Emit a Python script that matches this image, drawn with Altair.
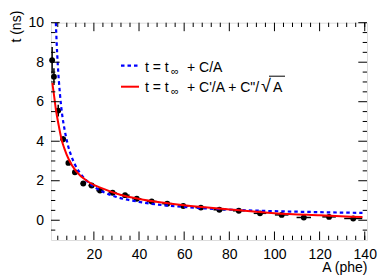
import altair as alt
import pandas as pd

FONT = "Liberation Sans"

# measured points (A in phe, t in ns)
A_pts = [1.5, 2.3, 4.2, 6.4, 8.7, 11.6, 15.3, 19.0, 22.7, 28.3, 33.8, 39.0, 45.6,
         52.5, 59.6, 67.4, 75.6, 84.2, 93.6, 103.2, 113.0, 124.2, 134.9]
t_pts = [8.1, 7.27, 5.55, 4.1, 2.9, 2.43, 1.86, 1.76, 1.5, 1.39, 1.27, 1.09, 0.95,
         0.84, 0.72, 0.64, 0.53, 0.48, 0.35, 0.27, 0.14, 0.17, 0.09]
t_err = [0.67, 0.42, 0.3, 0.15, 0.1, 0.08, 0.07, 0.06, 0.06, 0.05, 0.05, 0.05, 0.05,
         0.05, 0.05, 0.05, 0.05, 0.05, 0.05, 0.05, 0.05, 0.05, 0.05]
A_err = [0.3, 0.4, 0.5, 0.6, 0.8, 1.0, 1.2, 1.4, 1.6, 1.8, 2.0, 2.0, 2.2,
         2.2, 2.4, 2.4, 2.6, 2.6, 2.8, 3.0, 3.2, 3.0, 4.0]

# fit 1: t = t_inf + C/A
A_blue = [3.15, 3.5, 4, 5, 6, 7, 8.5, 10, 12, 15, 20, 25, 30, 40, 50, 60, 80, 100, 120, 139]
t_blue = [10.0, 9.0, 7.9, 6.35, 5.3, 4.6, 3.8, 3.25, 2.73, 2.22, 1.7, 1.39, 1.18,
          0.93, 0.77, 0.67, 0.54, 0.46, 0.41, 0.37]

# fit 2: t = t_inf + C'/A + C''/sqrt(A)
A_red = [1.6, 2.2, 3.2, 4.5, 5.7, 6.9, 9, 12, 17.5, 24, 32, 40, 50, 60, 80, 100, 120, 139]
t_red = [6.95, 6.45, 5.58, 4.75, 4.08, 3.64, 3.05, 2.5, 1.95, 1.6, 1.28, 1.08, 0.9,
         0.76, 0.55, 0.36, 0.25, 0.16]

x_labels = [20, 40, 60, 80, 100, 120, 140]
y_labels = [0, 2, 4, 6, 8, 10]
x_minor = [4, 8, 12, 16, 24, 28, 32, 36, 44, 48, 52, 56, 64, 68, 72, 76, 84, 88, 92, 96,
           104, 108, 112, 116, 124, 128, 132, 136, 140]
y_minor = [-0.5, 0.5, 1, 1.5, 2.5, 3, 3.5, 4.5, 5, 5.5, 6.5, 7, 7.5, 8.5, 9, 9.5]

leg1 = ["t = t", "\u221e", "+ C/A"]
leg2 = ["t = t", "\u221e", "+ C'/A + C\"/", "\u221a", "A"]

W, H = 316, 217.3
xs = alt.Scale(domain=[1, 141], nice=False, zero=False)
ys = alt.Scale(domain=[-1, 10], nice=False, zero=False)

pts = pd.DataFrame({"A": A_pts, "t": t_pts})
pts["lo"] = [t - e for t, e in zip(t_pts, t_err)]
pts["hi"] = [t + e for t, e in zip(t_pts, t_err)]
pts["Alo"] = [a - e for a, e in zip(A_pts, A_err)]
pts["Ahi"] = [a + e for a, e in zip(A_pts, A_err)]

xenc = alt.X("A:Q", scale=xs, axis=alt.Axis(
    values=x_labels, grid=False, ticks=False, tickSize=0, domain=False,
    labelFont=FONT, labelFontSize=14, labelColor="black", labelPadding=18,
    labelBaseline="alphabetic", labelFlush=False,
    title="A (phe)", titleFont=FONT, titleFontSize=14, titleFontWeight="normal",
    titleColor="black", titleAnchor="end", titleAlign="right", titleX=W, titleY=31.5,
    titleBaseline="alphabetic"))
yenc = alt.Y("t:Q", scale=ys, axis=alt.Axis(
    values=y_labels, grid=False, ticks=False, tickSize=0, domain=False,
    labelFont=FONT, labelFontSize=14, labelColor="black", labelPadding=7.5,
    labelBaseline="middle", labelFlush=False,
    title="t (ns)", titleFont=FONT, titleFontSize=14, titleFontWeight="normal",
    titleColor="black", titleAngle=270, titleAlign="right", titleX=-31, titleY=-12.5,
    titleBaseline="alphabetic"))

vbar = alt.Chart(pts).mark_rule(color="black", strokeWidth=1.5).encode(
    x=alt.X("A:Q", scale=xs), y=alt.Y("lo:Q", scale=ys), y2="hi:Q")
hbar = alt.Chart(pts).mark_rule(color="black", strokeWidth=1.5).encode(
    x=alt.X("Alo:Q", scale=xs), x2="Ahi:Q", y=alt.Y("t:Q", scale=ys))
dots = alt.Chart(pts).mark_circle(color="black", opacity=1, size=34).encode(x=xenc, y=yenc)

blue = alt.Chart(pd.DataFrame({"A": A_blue, "t": t_blue})).mark_line(
    color="#0000ff", strokeWidth=2.2, strokeDash=[3.5, 3], interpolate="monotone", clip=True
).encode(x=alt.X("A:Q", scale=xs), y=alt.Y("t:Q", scale=ys))
red = alt.Chart(pd.DataFrame({"A": A_red, "t": t_red})).mark_line(
    color="#ff0000", strokeWidth=2, interpolate="monotone", clip=True
).encode(x=alt.X("A:Q", scale=xs), y=alt.Y("t:Q", scale=ys))

# ticks pointing inward on all four sides
xmaj = pd.DataFrame({"v": x_labels})
xmin = pd.DataFrame({"v": x_minor})
ymaj = pd.DataFrame({"v": y_labels})
ymin = pd.DataFrame({"v": y_minor})


def xticks(df, L):
    b = alt.Chart(df).mark_rule(color="black", strokeWidth=1)
    return [b.encode(x=alt.X("v:Q", scale=xs), y=alt.value(H), y2=alt.value(H - L)),
            b.encode(x=alt.X("v:Q", scale=xs), y=alt.value(0), y2=alt.value(L))]


def yticks(df, L):
    b = alt.Chart(df).mark_rule(color="black", strokeWidth=1)
    return [b.encode(y=alt.Y("v:Q", scale=ys), x=alt.value(0), x2=alt.value(L)),
            b.encode(y=alt.Y("v:Q", scale=ys), x=alt.value(W), x2=alt.value(W - L))]


ticks = xticks(xmaj, 8.5) + xticks(xmin, 4.3) + yticks(ymaj, 8.7) + yticks(ymin, 4.3)

one = pd.DataFrame({"k": [0]})


def txt(s, x, y, size=14):
    return alt.Chart(pd.DataFrame({"s": [s]})).mark_text(
        font=FONT, fontSize=size, align="left", baseline="alphabetic", color="black"
    ).encode(text="s:N", x=alt.value(x), y=alt.value(y))


lb = alt.Chart(one).mark_rule(color="#0000ff", strokeWidth=2.2, strokeDash=[3.5, 3]).encode(
    x=alt.value(70), x2=alt.value(88), y=alt.value(43))
lr = alt.Chart(one).mark_rule(color="#ff0000", strokeWidth=2).encode(
    x=alt.value(70), x2=alt.value(88), y=alt.value(64))
ov = alt.Chart(one).mark_rule(color="black", strokeWidth=1).encode(
    x=alt.value(218), x2=alt.value(234), y=alt.value(53.5))

legend = [lb, lr,
          txt(leg1[0], 94, 49), txt(leg1[1], 120, 52, 11), txt(leg1[2], 136, 49),
          txt(leg2[0], 94, 69), txt(leg2[1], 120, 72, 11), txt(leg2[2], 136, 69),
          txt(leg2[3], 210, 69, 18), txt(leg2[4], 222, 69), ov]

chart = alt.layer(dots, vbar, hbar, blue, red, *ticks, *legend).properties(
    width=W, height=H,
    padding={"left": 43, "top": 14.7, "right": 15, "bottom": 36},
    autosize=alt.AutoSizeParams(type="none"),
).configure_view(stroke="black", strokeWidth=2).configure(background="white")

chart.save("out.html", embed_options={"renderer": "svg", "actions": False})
